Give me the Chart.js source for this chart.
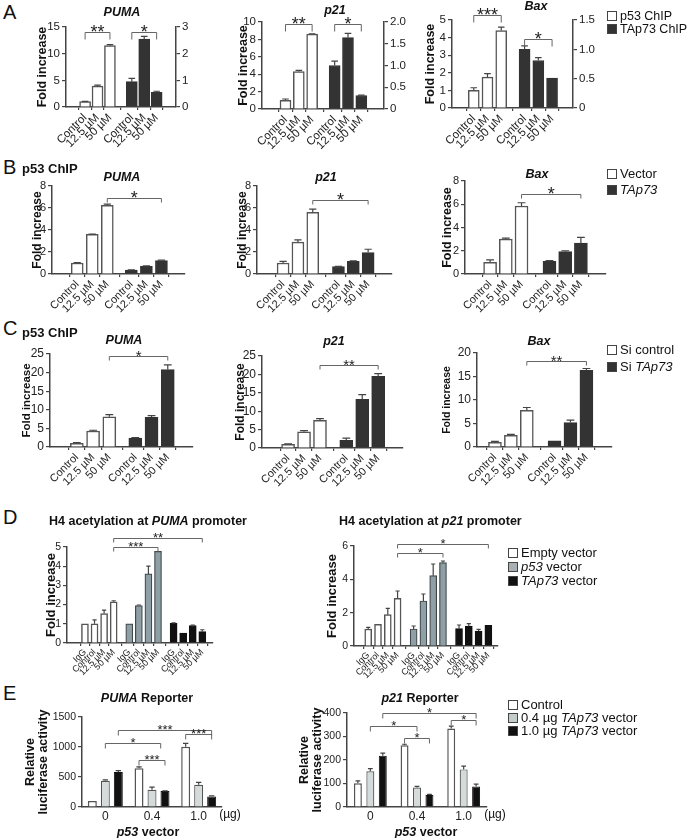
<!DOCTYPE html>
<html>
<head>
<meta charset="utf-8">
<title>p53 / TAp73 ChIP and reporter assays</title>
<script src="https://cdn.jsdelivr.net/npm/chart.js@4.4.1/dist/chart.umd.min.js"></script>
<style>
  html, body { margin: 0; background: #fff; }
  #fig { position: relative; width: 688px; height: 838px; overflow: hidden;
         font-family: "Liberation Sans", Arial, Helvetica, sans-serif; color: #111; }
  #fig canvas { position: absolute; }
  .t { position: absolute; white-space: nowrap; line-height: 1; }
  .key { position: absolute; width: 10px; height: 10px; border: 1px solid #444; box-sizing: border-box; }
</style>
</head>
<body>
<div id="fig"></div>
<script>
// ---------- data ----------
const doseLabels = ['Control', '12.5 µM', '50 µM'];
const acetylLabels = ['IgG', 'Control', '12.5 µM', '50 µM'];
const p53Doses = ['0', '0.4', '1.0'];

// A: ChIP, p53 on left axis, TAp73 on right axis
const aPumaP53 = [1.0, 3.9, 11.5],    aPumaP53Err = [0.05, 0.2, 0.2];
const aPumaTAp73 = [0.95, 2.55, 0.55], aPumaTAp73Err = [0.12, 0.1, 0.04];
const aP21P53 = [1.0, 4.3, 8.6],      aP21P53Err = [0.15, 0.15, 0.05];
const aP21TAp73 = [1.0, 1.64, 0.31],  aP21TAp73Err = [0.1, 0.1, 0.01];
const aBaxP53 = [1.0, 1.75, 4.4],     aBaxP53Err = [0.15, 0.2, 0.2];
const aBaxTAp73 = [1.0, 0.81, 0.51],  aBaxTAp73Err = [0.06, 0.05, 0];

// B: p53 ChIP, vector vs TAp73
const bPumaVector = [1.0, 3.6, 6.25], bPumaVectorErr = [0.03, 0.03, 0.1];
const bPumaTAp73 = [0.35, 0.7, 1.22], bPumaTAp73Err = [0.02, 0.03, 0.05];
const bP21Vector = [1.0, 2.9, 5.6],   bP21VectorErr = [0.15, 0.2, 0.3];
const bP21TAp73 = [0.68, 1.15, 1.95], bP21TAp73Err = [0.02, 0.05, 0.3];
const bBaxVector = [1.0, 3.0, 5.85],  bBaxVectorErr = [0.22, 0.08, 0.28];
const bBaxTAp73 = [1.1, 1.92, 2.65],  bBaxTAp73Err = [0.05, 0.08, 0.5];

// C: p53 ChIP, si control vs si TAp73
const cPumaSiCtrl = [1.0, 4.3, 8.1],    cPumaSiCtrlErr = [0.2, 0.2, 0.6];
const cPumaSiTAp73 = [2.4, 8.0, 20.8],  cPumaSiTAp73Err = [0.1, 0.45, 1.3];
const cP21SiCtrl = [1.0, 4.4, 7.5],     cP21SiCtrlErr = [0.1, 0.3, 0.5];
const cP21SiTAp73 = [2.1, 13.2, 19.5],  cP21SiTAp73Err = [0.6, 1.3, 0.7];
const cBaxSiCtrl = [1.0, 2.5, 7.8],     cBaxSiCtrlErr = [0.2, 0.2, 0.6];
const cBaxSiTAp73 = [1.3, 5.2, 16.3],   cBaxSiTAp73Err = [0, 0.5, 0.4];

// D: H4 acetylation
const dPumaEmpty = [1.0, 1.0, 1.53, 2.15],  dPumaEmptyErr = [0, 0.2, 0.18, 0.05];
const dPumaP53 = [1.0, 1.95, 3.6, 4.77],    dPumaP53Err = [0, 0.03, 0.4, 0];
const dPumaTAp73 = [1.02, 0.52, 0.91, 0.59], dPumaTAp73Err = [0.03, 0, 0.02, 0.1];
const dP21Empty = [1.02, 1.3, 1.88, 2.86],  dP21EmptyErr = [0.1, 0, 0.38, 0.44];
const dP21P53 = [1.02, 2.7, 4.22, 5.0],     dP21P53Err = [0.18, 0.42, 0.7, 0.1];
const dP21TAp73 = [1.04, 1.2, 0.9, 1.24],   dP21TAp73Err = [0.22, 0.14, 0.1, 0];

// E: reporter assays
const ePumaCtrl = [100, 645, 1004],     ePumaCtrlErr = [0, 25, 55];
const ePumaTAp73Low = [436, 287, 370],  ePumaTAp73LowErr = [15, 45, 40];
const ePumaTAp73High = [585, 265, 177], ePumaTAp73HighErr = [22, 5, 10];
const eP21Ctrl = [101, 263, 334],       eP21CtrlErr = [10, 4, 10];
const eP21TAp73Low = [152, 83, 160],    eP21TAp73LowErr = [11, 5, 14];
const eP21TAp73High = [218, 51, 87],    eP21TAp73HighErr = [11, 3, 10];

// ---------- styles ----------
const WHITE = { fill: '#ffffff', line: '#555555', w: 1.5 };
const DARK  = { fill: '#333333', line: '#333333', w: 1 };
const GREY  = { fill: '#8f9fa6', line: '#3f4749', w: 1.2 };
const BLACK = { fill: '#111111', line: '#111111', w: 1 };
const PALE  = { fill: '#d5dbdb', line: '#555555', w: 1.2 };
const AXIS = '#444';

Chart.defaults.font.family = '"Liberation Sans", Arial, Helvetica, sans-serif';
Chart.defaults.color = '#222';

const fig = document.getElementById('fig');

function text(html, x, yc, size, o = {}) {
  const d = document.createElement('div');
  d.className = 't';
  d.innerHTML = html;
  d.style.fontSize = size + 'px';
  d.style.fontWeight = o.bold ? 'bold' : 'normal';
  d.style.top = (yc - size * 0.52) + 'px';
  d.style.left = x + 'px';
  if (o.center) d.style.transform = 'translateX(-50%)';
  fig.appendChild(d);
}

function legend(x, rows, items, size) {
  items.forEach(([fill, label], k) => {
    const b = document.createElement('div');
    b.className = 'key';
    b.style.left = x + 'px';
    b.style.top = (rows[k] - 5) + 'px';
    b.style.background = fill;
    fig.appendChild(b);
    text(label, x + 13, rows[k], size);
  });
}

// integer steps print as integers, half steps with one decimal ("0" stays "0")
function tickFormat(step) {
  if (Number.isInteger(step)) return v => String(v);
  return v => (v === 0 ? '0' : v.toFixed(1));
}

// ---------- plugins ----------
const errorBars = {
  id: 'errorBars',
  afterDatasetsDraw(chart) {
    const ctx = chart.ctx;
    chart.data.datasets.forEach((ds, di) => {
      if (!ds.errors) return;
      const meta = chart.getDatasetMeta(di);
      const sc = chart.scales[meta.yAxisID];
      meta.data.forEach((bar, i) => {
        const e = ds.errors[i];
        if (!e) return;
        const d = ds.data[i];
        const v = typeof d === 'object' ? d.y : d;
        const top = sc.getPixelForValue(v + e);
        const w = bar.width * 0.6;
        ctx.save();
        ctx.strokeStyle = '#444';
        ctx.lineWidth = 1.2;
        ctx.beginPath();
        ctx.moveTo(bar.x, bar.y);
        ctx.lineTo(bar.x, top);
        ctx.moveTo(bar.x - w / 2, top);
        ctx.lineTo(bar.x + w / 2, top);
        ctx.stroke();
        ctx.restore();
      });
    });
  }
};

function barX(chart, ref) {
  const d0 = Math.floor(ref[0]), f = ref[0] - d0, i = ref[1];
  const x0 = chart.getDatasetMeta(d0).data[i].x;
  if (!f) return x0;
  return x0 + f * (chart.getDatasetMeta(d0 + 1).data[i].x - x0);
}

const brackets = {
  id: 'brackets',
  afterDraw(chart, args, o) {
    const ctx = chart.ctx;
    const ys = chart.scales.y;
    (o.list || []).forEach(b => {
      const xa = barX(chart, b.from), xb = barX(chart, b.to);
      const y = Math.round(ys.getPixelForValue(b.level)) + 0.5;
      ctx.save();
      ctx.strokeStyle = '#666';
      ctx.lineWidth = 1;
      ctx.beginPath();
      ctx.moveTo(xa, y + o.drop);
      ctx.lineTo(xa, y);
      ctx.lineTo(xb, y);
      ctx.lineTo(xb, y + o.drop);
      ctx.stroke();
      ctx.fillStyle = '#222';
      ctx.font = o.star + 'px "Liberation Sans", Arial, sans-serif';
      ctx.textAlign = 'center';
      ctx.textBaseline = 'alphabetic';
      ctx.fillText(b.text, (xa + xb) / 2, y + o.star * 0.43 - 2);
      ctx.restore();
    });
  }
};

function axisLook(tickLength, drawTicks = true) {
  return {
    grid: { drawOnChartArea: false, drawTicks, tickLength, color: AXIS, lineWidth: 1.2 },
    border: { display: true, color: AXIS, width: 1.5 }
  };
}

function canvasFor(x0, y0, x1, y1) {
  const cv = document.createElement('canvas');
  cv.width = x1 - x0;
  cv.height = y1 - y0;
  cv.style.left = x0 + 'px';
  cv.style.top = y0 + 'px';
  fig.appendChild(cv);
  return cv;
}

// bar groups placed along a linear index axis (panels A-D)
function groupChart(p) {
  const [L, T, R, B] = p.plot;
  const lh = p.yTitleSize * 1.2;
  const x0 = Math.round(p.yTitleX - lh / 2);
  const y0 = Math.max(0, T - 32);
  const x1 = R + (p.y1 ? 32 : 12);
  const y1 = B + 56;
  const cv = canvasFor(x0, y0, x1, y1);

  const pos = [], names = [];
  const datasets = p.groups.map((g, gi) => ({
    data: g.v.map((v, i) => {
      const x = gi * p.step + i;
      pos.push(x);
      names.push(p.labels[i]);
      return { x, y: v };
    }),
    errors: g.e,
    backgroundColor: g.s.fill,
    borderColor: g.s.line,
    borderWidth: g.s.w,
    yAxisID: g.axis || 'y',
    grouped: false,
    maxBarThickness: p.bar,
    barPercentage: 1,
    categoryPercentage: 1
  }));
  const last = pos[pos.length - 1];

  const scales = {
    x: Object.assign(axisLook(3), {
      type: 'linear', min: -p.padL, max: last + p.padR,
      afterBuildTicks: s => { s.ticks = pos.map(v => ({ value: v })); },
      afterFit: s => { s.height = y1 - B; s.paddingLeft = 0; s.paddingRight = 0; },
      ticks: { autoSkip: false, minRotation: 45, maxRotation: 45, padding: 1,
               font: { size: p.xTick }, color: '#222', callback: (v, i) => names[i] }
    }),
    y: Object.assign(axisLook(4), {
      min: 0, max: p.y[0],
      afterFit: s => { s.width = L - x0; s.paddingTop = 0; s.paddingBottom = 0; },
      ticks: { stepSize: p.y[1], padding: 2, font: { size: p.yTick }, color: '#222', callback: tickFormat(p.y[1]) },
      title: { display: true, text: 'Fold increase', padding: 0, color: '#111',
               font: { size: p.yTitleSize, weight: 'bold', lineHeight: 1.2 } }
    })
  };
  if (p.y1) {
    scales.y1 = Object.assign(axisLook(4), {
      position: 'right', min: 0, max: p.y1[0],
      afterFit: s => { s.width = x1 - R; s.paddingTop = 0; s.paddingBottom = 0; },
      ticks: { stepSize: p.y1[1], padding: 2, font: { size: p.yTick }, color: '#222', callback: tickFormat(p.y1[1]) }
    });
  }

  new Chart(cv, {
    type: 'bar',
    data: { datasets },
    options: {
      responsive: false, animation: false, events: [],
      layout: { padding: { top: T - y0, right: p.y1 ? 0 : x1 - R, left: 0, bottom: 0 } },
      plugins: {
        legend: { display: false }, tooltip: { enabled: false },
        brackets: { list: p.brackets, drop: p.drop, star: p.star }
      },
      scales
    },
    plugins: [errorBars, brackets]
  });
}

// grouped bars by p53 vector amount (panel E)
function doseChart(p) {
  const [L, T, R, B] = p.plot;
  const lh = 13;
  const x0 = Math.round(p.yTitleX - lh);
  const y0 = T - 26, x1 = R + 8, y1 = B + 16;
  const cv = canvasFor(x0, y0, x1, y1);

  new Chart(cv, {
    type: 'bar',
    data: {
      labels: p53Doses,
      datasets: p.series.map(s => ({
        data: s.v, errors: s.e,
        backgroundColor: s.s.fill, borderColor: s.s.line, borderWidth: s.s.w,
        categoryPercentage: p.cat, barPercentage: p.barPct
      }))
    },
    options: {
      responsive: false, animation: false, events: [],
      layout: { padding: { top: T - y0, right: x1 - R, left: 0, bottom: 0 } },
      plugins: {
        legend: { display: false }, tooltip: { enabled: false },
        brackets: { list: p.brackets, drop: 5, star: 13 }
      },
      scales: {
        x: Object.assign(axisLook(0, false), {
          afterFit: s => { s.height = y1 - B; s.paddingLeft = 0; s.paddingRight = 0; },
          ticks: { padding: 2, font: { size: 12 }, color: '#222' }
        }),
        y: Object.assign(axisLook(4), {
          min: 0, max: p.y[0],
          afterFit: s => { s.width = L - x0; s.paddingTop = 0; s.paddingBottom = 0; },
          ticks: { stepSize: p.y[1], padding: 2, font: { size: 10.5 }, color: '#222', callback: tickFormat(p.y[1]) },
          title: { display: true, text: ['Relative', 'luciferase activity'], padding: 0, color: '#111',
                   font: { size: 12.5, weight: 'bold', lineHeight: 1.04 } }
        })
      }
    },
    plugins: [errorBars, brackets]
  });
}

// ---------- panel A ----------
const aCommon = { labels: doseLabels, bar: 11, xTick: 11.5, yTick: 11.5, yTitleSize: 12.5, drop: 7, star: 18 };
groupChart(Object.assign({}, aCommon, {
  plot: [66, 27, 176, 107], yTitleX: 42, step: 3.76, padL: 0.8, padR: 0.82, y: [15, 5], y1: [3, 1],
  groups: [{ v: aPumaP53, e: aPumaP53Err, s: WHITE }, { v: aPumaTAp73, e: aPumaTAp73Err, s: DARK, axis: 'y1' }],
  brackets: [{ from: [0, 0], to: [0, 2], level: 14, text: '**' }, { from: [1, 0], to: [1, 2], level: 14, text: '*' }]
}));
groupChart(Object.assign({}, aCommon, {
  plot: [262, 22, 384, 109], yTitleX: 243, step: 3.69, padL: 1.0, padR: 0.94, y: [10, 2], y1: [2, 0.5],
  groups: [{ v: aP21P53, e: aP21P53Err, s: WHITE }, { v: aP21TAp73, e: aP21TAp73Err, s: DARK, axis: 'y1' }],
  brackets: [{ from: [0, 0], to: [0, 2], level: 9.8, text: '**' }, { from: [1, 0], to: [1, 2], level: 9.8, text: '*' }]
}));
groupChart(Object.assign({}, aCommon, {
  plot: [452, 20, 573, 108], yTitleX: 430, step: 3.7, padL: 0.85, padR: 0.79, y: [5, 1], y1: [1.5, 0.5],
  groups: [{ v: aBaxP53, e: aBaxP53Err, s: WHITE }, { v: aBaxTAp73, e: aBaxTAp73Err, s: DARK, axis: 'y1' }],
  brackets: [{ from: [0, 0], to: [0, 2], level: 5.28, text: '***' }, { from: [1, 0], to: [1, 2], level: 3.9, text: '*' }]
}));

// ---------- panel B ----------
const bCommon = { labels: doseLabels, bar: 12, xTick: 11, yTick: 11, yTitleSize: 12, drop: 4, star: 18, y: [8, 2] };
groupChart(Object.assign({}, bCommon, {
  plot: [52, 186, 185, 274], yTitleX: 37, step: 3.6, padL: 0.94, padR: 0.83,
  groups: [{ v: bPumaVector, e: bPumaVectorErr, s: WHITE }, { v: bPumaTAp73, e: bPumaTAp73Err, s: DARK }],
  brackets: [{ from: [0, 2], to: [1, 2], level: 6.9, text: '*' }]
}));
groupChart(Object.assign({}, bCommon, {
  plot: [257, 186, 392, 274], yTitleX: 242, step: 3.73, padL: 1.0, padR: 0.85,
  groups: [{ v: bP21Vector, e: bP21VectorErr, s: WHITE }, { v: bP21TAp73, e: bP21TAp73Err, s: DARK }],
  brackets: [{ from: [0, 2], to: [1, 2], level: 6.7, text: '*' }]
}));
groupChart(Object.assign({}, bCommon, {
  plot: [465, 181, 606, 274], yTitleX: 447, yTitleSize: 12.5, bar: 13, step: 3.78, padL: 0.85, padR: 0.85,
  groups: [{ v: bBaxVector, e: bBaxVectorErr, s: WHITE }, { v: bBaxTAp73, e: bBaxTAp73Err, s: DARK }],
  brackets: [{ from: [0, 2], to: [1, 2], level: 6.9, text: '*' }]
}));

// ---------- panel C ----------
const cCommon = { labels: doseLabels, bar: 13, xTick: 11, yTick: 12, drop: 4, star: 15 };
groupChart(Object.assign({}, cCommon, {
  plot: [50, 354, 193, 447], yTitleX: 27, yTitleSize: 11.5, step: 3.6, padL: 0.92, padR: 0.82, y: [25, 5],
  groups: [{ v: cPumaSiCtrl, e: cPumaSiCtrlErr, s: WHITE }, { v: cPumaSiTAp73, e: cPumaSiTAp73Err, s: DARK }],
  brackets: [{ from: [0, 2], to: [1, 2], level: 24.5, text: '*' }]
}));
groupChart(Object.assign({}, cCommon, {
  plot: [262, 356, 403, 448], yTitleX: 240, yTitleSize: 12, step: 3.65, padL: 0.9, padR: 0.82, y: [25, 5],
  groups: [{ v: cP21SiCtrl, e: cP21SiCtrlErr, s: WHITE }, { v: cP21SiTAp73, e: cP21SiTAp73Err, s: DARK }],
  brackets: [{ from: [0, 2], to: [1, 2], level: 22.6, text: '**' }]
}));
groupChart(Object.assign({}, cCommon, {
  plot: [477, 353, 612, 447], yTitleX: 447, yTitleSize: 10.5, step: 3.74, padL: 0.42, padR: 0.9, y: [20, 5],
  groups: [{ v: cBaxSiCtrl, e: cBaxSiCtrlErr, s: WHITE }, { v: cBaxSiTAp73, e: cBaxSiTAp73Err, s: DARK }],
  brackets: [{ from: [0, 2], to: [1, 2], level: 18.2, text: '**' }]
}));

// ---------- panel D ----------
const dCommon = { labels: acetylLabels, bar: 7, xTick: 9, yTick: 10.5, yTitleSize: 13, drop: 4, star: 13 };
groupChart(Object.assign({}, dCommon, {
  plot: [67, 547, 213, 643], yTitleX: 52, step: 4.63, padL: 1.24, padR: 0.48, y: [5, 1],
  groups: [{ v: dPumaEmpty, e: dPumaEmptyErr, s: WHITE }, { v: dPumaP53, e: dPumaP53Err, s: GREY },
           { v: dPumaTAp73, e: dPumaTAp73Err, s: BLACK }],
  brackets: [{ from: [0, 3], to: [1, 3], level: 5.0, text: '***' }, { from: [0, 3], to: [2, 3], level: 5.45, text: '**' }]
}));
groupChart(Object.assign({}, dCommon, {
  plot: [354, 546, 498, 646], yTitleX: 333, step: 4.64, padL: 0.84, padR: 0.37, y: [6, 2],
  groups: [{ v: dP21Empty, e: dP21EmptyErr, s: WHITE }, { v: dP21P53, e: dP21P53Err, s: GREY },
           { v: dP21TAp73, e: dP21TAp73Err, s: BLACK }],
  brackets: [{ from: [0, 3], to: [1, 3], level: 5.58, text: '*' }, { from: [0, 3], to: [2, 3], level: 6.1, text: '*' }]
}));

// ---------- panel E ----------
doseChart({
  plot: [82, 717, 222, 807], yTitleX: 36.5, y: [1500, 500], cat: 0.835, barPct: 0.69,
  series: [{ v: ePumaCtrl, e: ePumaCtrlErr, s: WHITE }, { v: ePumaTAp73Low, e: ePumaTAp73LowErr, s: PALE },
           { v: ePumaTAp73High, e: ePumaTAp73HighErr, s: BLACK }],
  brackets: [{ from: [2, 0], to: [2, 2], level: 1280, text: '***' }, { from: [1, 0], to: [1.67, 1], level: 1065, text: '*' },
             { from: [0, 1], to: [2, 1], level: 783, text: '***' }, { from: [0, 2], to: [2, 2], level: 1225, text: '***' }]
});
doseChart({
  plot: [347, 713, 487, 807], yTitleX: 310.5, y: [400, 100], cat: 0.80, barPct: 0.64,
  series: [{ v: eP21Ctrl, e: eP21CtrlErr, s: WHITE }, { v: eP21TAp73Low, e: eP21TAp73LowErr, s: PALE },
           { v: eP21TAp73High, e: eP21TAp73HighErr, s: BLACK }],
  brackets: [{ from: [2, 0], to: [2, 2], level: 400, text: '*' }, { from: [1, 0], to: [1, 1], level: 344, text: '*' },
             { from: [0, 1], to: [2, 1], level: 294, text: '*' }, { from: [0, 2], to: [2, 2], level: 369, text: '*' }]
});

// ---------- text ----------
[['A', 12.5], ['B', 167], ['C', 328], ['D', 517], ['E', 693]].forEach(([l, y]) => text(l, 3, y, 20));
text('p53 ChIP', 22, 169, 13, { bold: true });
text('p53 ChIP', 22, 333, 13, { bold: true });

[['PUMA', 122, 12], ['p21', 335, 10], ['Bax', 536, 6.5],
 ['PUMA', 122, 177], ['p21', 326, 177], ['Bax', 537, 174],
 ['PUMA', 124, 340], ['p21', 334, 341], ['Bax', 539, 341]]
  .forEach(([g, x, y]) => text('<i>' + g + '</i>', x, y, 12.5, { bold: true, center: true }));

text('H4 acetylation at <i>PUMA</i> promoter', 49, 521, 12.5, { bold: true });
text('H4 acetylation at <i>p21</i> promoter', 339, 521, 12.5, { bold: true });
text('<i>PUMA</i> Reporter', 147, 698, 12.5, { bold: true, center: true });
text('<i>p21</i> Reporter', 420, 698, 12.5, { bold: true, center: true });
text('<i>p53</i> vector', 148, 832, 12.5, { bold: true, center: true });
text('<i>p53</i> vector', 426, 832, 12.5, { bold: true, center: true });
text('(µg)', 230, 814, 12, { center: true });
text('(µg)', 495, 814, 12, { center: true });

legend(607, [16, 29], [[WHITE.fill, 'p53 ChIP'], [DARK.fill, 'TAp73 ChIP']], 12.5);
legend(607, [174, 190], [[WHITE.fill, 'Vector'], [DARK.fill, '<i>TAp73</i>']], 13);
legend(607, [350, 367], [[WHITE.fill, 'Si control'], [DARK.fill, 'Si <i>TAp73</i>']], 13);
legend(508, [553, 567, 581], [[WHITE.fill, 'Empty vector'], ['#a9b0b3', '<i>p53</i> vector'], [BLACK.fill, '<i>TAp73</i> vector']], 13);
legend(508, [705, 718, 731], [[WHITE.fill, 'Control'], ['#c4cbcb', '0.4 µg <i>TAp73</i> vector'], [BLACK.fill, '1.0 µg <i>TAp73</i> vector']], 13);
</script>
</body>
</html>
